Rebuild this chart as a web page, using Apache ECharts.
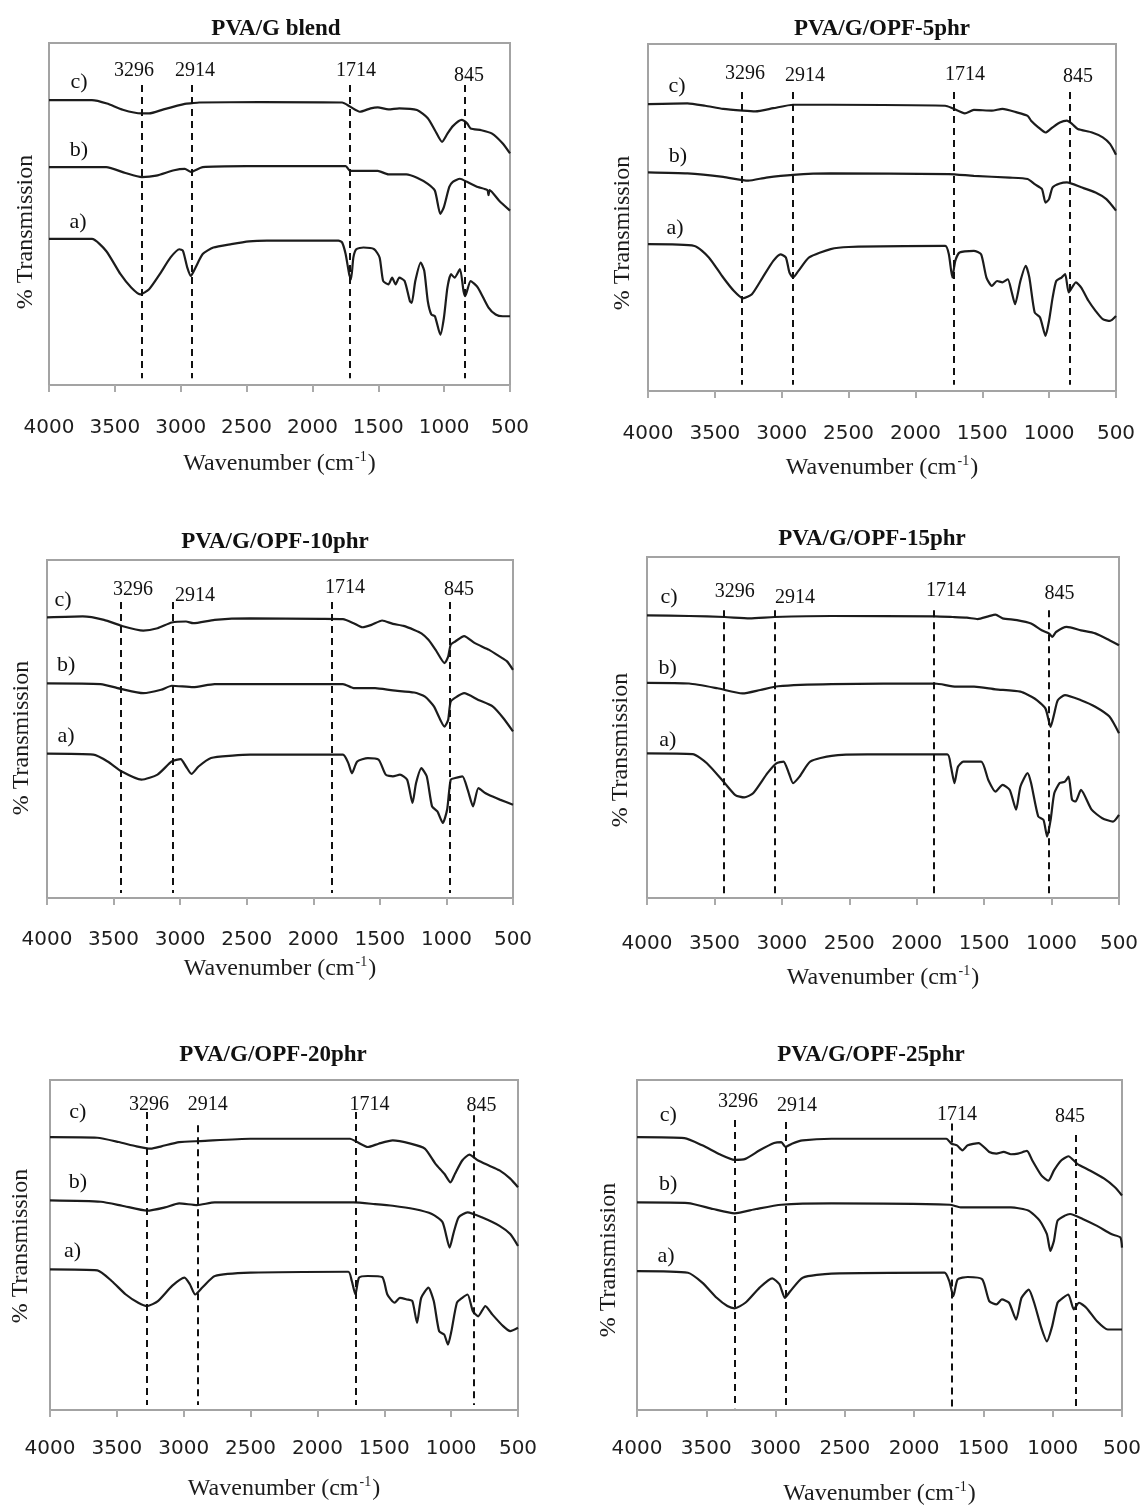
<!DOCTYPE html>
<html>
<head>
<meta charset="utf-8">
<title>FTIR spectra</title>
<script src="https://cdn.jsdelivr.net/npm/echarts@6.0.0/dist/echarts.min.js"></script>
<style>
  html, body { margin: 0; padding: 0; background: #fff; }
  #chart { width: 1143px; height: 1508px; }
</style>
</head>
<body>
<div id="chart"></div>
<script>
// panel titles and annotation texts
var panelTitles = ["PVA/G blend", "PVA/G/OPF-5phr", "PVA/G/OPF-10phr", "PVA/G/OPF-15phr", "PVA/G/OPF-20phr", "PVA/G/OPF-25phr"];
var peakLabels = ["3296", "2914", "1714", "845"];
var curveLabels = ["c)", "b)", "a)"];

// wavenumber where the dashed guide lines are drawn, per panel
var blendDash = [3296, 2914, 1714, 845];
var opf5Dash = [3296, 2914, 1714, 845];
var opf10Dash = [3443, 3057, 1858, 974];
var opf15Dash = [3429, 3054, 1871, 1020];
var opf20Dash = [3279, 2895, 1716, 832];
var opf25Dash = [3296, 2928, 1730, 831];

// spectra: [wavenumber, relative transmission (0 = frame bottom, 100 = frame top)]
var blendC = [[4000,83.3],[3674,83.3],[3560,82.3],[3440,80.5],[3300,79.4],[3240,79.4],[3130,80.6],[2969,82.2],[2915,82.4],[2860,82.6],[2400,82.7],[1775,82.6],[1714,81.4],[1640,79.9],[1558,80.9],[1504,81.2],[1423,80.6],[1341,80.9],[1206,80.4],[1124,78],[1070,74.5],[1016,71.1],[975,73.5],[934,75.7],[867,77.5],[826,76.5],[799,75],[717,74.5],[636,73.5],[555,70.6],[500,67.7]];
var blendB = [[4000,63.7],[3566,63.7],[3420,62],[3295,60.8],[3186,61.2],[3050,62.8],[2969,63.2],[2923,62.3],[2833,63.7],[2500,64],[1748,64],[1714,62.6],[1660,62.6],[1504,62.6],[1423,61.6],[1287,61.6],[1206,60.6],[1124,58.8],[1070,56.8],[1029,50],[1002,52],[961,57.9],[934,59.4],[880,60.3],[826,59.4],[744,57.9],[672,57],[663,55.5],[655,57],[582,53.9],[500,51]];
var blendA = [[4000,42.7],[3674,42.7],[3566,39.2],[3457,32.4],[3376,28.5],[3308,26.5],[3240,28],[3159,32.4],[3077,37.3],[3010,39.7],[2983,39.2],[2950,34.3],[2923,31.9],[2888,34.3],[2833,38.3],[2752,40.2],[2616,41.2],[2481,42],[2345,42.2],[1802,42.2],[1775,41.7],[1748,38.3],[1721,32.4],[1707,30.9],[1689,37.3],[1667,39.7],[1613,40.2],[1531,39.7],[1490,37.3],[1463,30.4],[1423,29.4],[1395,31.4],[1368,29.4],[1341,31.4],[1300,30.4],[1260,24.5],[1246,24],[1219,30.4],[1178,35.8],[1151,33.4],[1124,24.5],[1097,20.6],[1070,20.1],[1029,14.7],[1002,19.6],[975,28.5],[948,32.4],[921,31.4],[880,33.9],[853,27.5],[840,26],[799,30.4],[744,28.5],[663,22.6],[609,20.6],[555,20.1],[500,20.1]];

var opf5C = [[4000,82.7],[3705,82.9],[3572,82.2],[3438,81.3],[3290,80.8],[3197,80.6],[3063,81.5],[2915,82.5],[2634,82.5],[1777,82.2],[1724,81.5],[1630,80],[1563,81],[1429,80.8],[1349,81.3],[1242,80.3],[1161,79.3],[1135,77.9],[1081,76],[1027,74.5],[974,76],[920,77.4],[867,77.9],[827,76.9],[786,75.5],[679,74.5],[599,73.1],[545,71.2],[500,68.1]];
var opf5B = [[4000,63],[3705,62.7],[3438,61.7],[3250,60.6],[3116,61.5],[2915,62.3],[2634,62.7],[1750,62.5],[1563,62],[1295,61.5],[1161,61.1],[1108,59.6],[1054,58.2],[1027,54.3],[1001,55.3],[974,58.7],[920,59.8],[867,60.1],[760,58.7],[653,57.2],[572,55.3],[500,52]];
var opf5A = [[4000,42.3],[3652,41.8],[3545,38.5],[3438,32.7],[3357,28.8],[3290,26.7],[3223,27.9],[3143,32.7],[3063,37.5],[3009,39.4],[2969,38.5],[2942,34.1],[2915,32.7],[2875,34.6],[2795,38.5],[2634,40.9],[2500,41.5],[1777,41.8],[1750,39.4],[1724,32.7],[1702,37.5],[1670,39.9],[1563,40.4],[1509,39.4],[1469,32.7],[1429,30.3],[1389,31.7],[1349,31.3],[1309,32.2],[1282,28.8],[1255,25],[1215,31.7],[1175,36.1],[1148,32.7],[1108,22.6],[1068,21.2],[1027,15.9],[1001,20.2],[974,26.9],[947,31.7],[907,32.7],[880,33.7],[853,28.4],[800,31.3],[760,29.8],[706,26],[653,23.1],[599,20.7],[545,20.2],[500,21.6]];

var opf10C = [[4000,83],[3732,83.3],[3572,82.3],[3438,80.5],[3277,79.1],[3170,79.8],[3063,81.5],[2956,81.8],[2902,81.3],[2741,82.3],[2474,82.7],[1938,82.6],[1777,82.5],[1697,81.3],[1630,80.1],[1563,80.8],[1483,82.1],[1402,81.1],[1322,80.5],[1242,79.3],[1188,78.3],[1135,76.4],[1081,73.4],[1014,69.5],[987,71.4],[968,74.9],[934,75.9],[867,77.5],[786,75.4],[679,73.4],[599,71.4],[545,70],[500,67.5]];
var opf10B = [[4000,63.5],[3598,63.3],[3438,61.8],[3277,60.6],[3143,61.6],[3063,62.8],[2902,62.4],[2741,63.3],[1777,63.3],[1697,62.1],[1536,62.1],[1402,61.4],[1242,60.8],[1161,59.6],[1094,56.7],[1014,50.7],[987,52.7],[968,58.1],[920,59.6],[867,60.6],[760,58.6],[653,56.7],[572,53.2],[500,49.3]];
var opf10A = [[4000,42.7],[3652,42.4],[3545,40.4],[3438,37.4],[3290,35],[3170,36.5],[3063,40.4],[2996,41.1],[2956,38.9],[2915,36.7],[2862,38.9],[2768,41.4],[2607,42.1],[2474,42.4],[1777,42.4],[1737,39.9],[1710,36.9],[1670,40.4],[1590,41.4],[1509,40.9],[1456,36.5],[1402,36],[1349,36.5],[1295,35],[1255,28.1],[1228,34],[1188,38.4],[1148,36],[1108,27.1],[1068,25.6],[1027,22.2],[995,26.1],[968,35],[934,35.5],[880,36],[840,32],[800,27.1],[760,32.5],[706,31],[653,30],[599,29.1],[500,27.6]];

var opf15C = [[4000,82.9],[3688,82.7],[3424,82.4],[3239,82],[3054,82.4],[2631,82.7],[1865,82.6],[1733,82.4],[1628,82.2],[1548,81.8],[1469,82.6],[1416,83.1],[1363,82],[1257,81.5],[1152,80.5],[1073,78.5],[1020,77.6],[994,76.6],[967,78],[888,79.5],[782,78.5],[676,77.6],[571,75.6],[500,74.1]];
var opf15B = [[4000,63.1],[3688,62.9],[3477,61.5],[3292,60],[3160,61],[3028,62.1],[2631,62.7],[1865,62.9],[1707,62],[1575,62],[1416,61.2],[1231,60.5],[1126,58.5],[1046,55.6],[1007,50.2],[980,54.1],[954,58],[901,59.5],[782,58],[676,56.1],[571,53.2],[500,48.3]];
var opf15A = [[4000,42.4],[3662,42.2],[3556,39.5],[3424,33.7],[3345,30.2],[3279,29.5],[3213,30.7],[3107,36.6],[3041,39.5],[2988,40],[2948,36.6],[2917,33.7],[2869,35.6],[2790,40],[2631,41.7],[2367,42.1],[1773,42.1],[1746,38.5],[1720,33.7],[1694,38.5],[1654,40],[1522,40],[1469,34.6],[1416,31.2],[1363,33.2],[1310,31.7],[1263,25.9],[1231,32.7],[1178,36.6],[1152,33.7],[1099,23.9],[1060,22.9],[1033,18],[1007,22.9],[980,30.7],[940,33.7],[901,34.1],[874,35.6],[848,28.8],[822,28.3],[782,31.7],[703,25.9],[624,23.4],[545,22.4],[500,24.4]];

var opf20C = [[4000,82.7],[3646,82.5],[3486,81.2],[3353,79.9],[3247,79.2],[3167,79.9],[3034,81.2],[2874,81.5],[2501,82.2],[1756,82.2],[1703,81.2],[1623,79.7],[1543,80.7],[1437,81.7],[1303,80.7],[1197,79.2],[1117,74.6],[1051,71.6],[1005,69],[971,71.6],[917,75.6],[864,77.4],[798,75.6],[718,74.1],[638,72.6],[558,70.1],[500,67.5]];
var opf20B = [[4000,63.5],[3619,63.1],[3460,61.9],[3273,60.4],[3140,61.4],[3034,62.6],[2901,62.1],[2768,62.9],[1729,62.9],[1570,62.4],[1437,61.9],[1277,60.9],[1144,59.4],[1064,56.9],[1011,49.2],[984,53.3],[944,58.4],[877,59.9],[771,58.4],[638,55.8],[558,53.3],[500,49.7]];
var opf20A = [[4000,42.6],[3646,42.3],[3539,39.1],[3433,35],[3340,32.5],[3273,31.5],[3193,33],[3087,37.6],[2994,40.1],[2954,38.1],[2914,35],[2861,37.1],[2767,40.6],[2501,41.6],[1769,41.9],[1743,39.1],[1716,35],[1689,40.1],[1623,40.6],[1516,40.3],[1477,35],[1423,32.5],[1383,34],[1330,33.5],[1290,33],[1255,26.4],[1224,34],[1170,37.1],[1130,33],[1090,23.9],[1051,22.8],[1024,19.8],[998,23.9],[957,32.5],[917,34],[877,35],[837,29.9],[798,28.4],[744,31.5],[691,28.9],[611,25.4],[558,23.9],[500,24.9]];

var opf25C = [[4000,82.7],[3658,82.4],[3529,80.2],[3399,77.4],[3296,75.8],[3218,76.1],[3115,78.7],[3011,80.9],[2959,81.2],[2928,79.7],[2882,80.7],[2804,81.7],[2597,82.2],[1768,82.2],[1730,80.7],[1691,80.2],[1652,78.7],[1613,80.2],[1535,80.9],[1458,78.2],[1406,77.7],[1354,78.2],[1302,77.5],[1251,77.7],[1186,78.5],[1147,75.6],[1082,71.1],[1031,69.5],[991,72.6],[939,75.6],[887,76.9],[823,74.6],[732,72.6],[628,70.1],[551,67.5],[500,65]];
var opf25B = [[4000,62.9],[3632,62.7],[3451,60.9],[3296,59.6],[3141,60.9],[2959,62.2],[2597,62.6],[1742,62.2],[1665,61.4],[1302,61.4],[1173,60.4],[1094,57.4],[1042,53.3],[1017,48.2],[991,51.3],[965,57.4],[913,58.9],[875,59.4],[784,57.9],[680,55.8],[577,53.3],[512,52.3],[500,49.2]];
var opf25A = [[4000,42.1],[3632,41.6],[3529,38.6],[3425,34],[3348,31.5],[3296,30.8],[3218,32.5],[3115,37.1],[3024,39.9],[2972,38.1],[2933,34],[2894,36],[2804,40.1],[2597,41.3],[1781,41.6],[1747,39.1],[1717,34.5],[1686,39.6],[1613,40.3],[1509,39.6],[1458,33],[1406,32],[1367,33.5],[1315,32.5],[1264,27.4],[1225,34],[1173,36.5],[1134,32.5],[1082,24.9],[1042,20.8],[1004,25.4],[965,32.5],[926,34],[887,35],[848,30.5],[810,32.5],[758,31],[680,26.9],[603,24.4],[500,24.4]];

var spectra = [
  [blendC, blendB, blendA],
  [opf5C, opf5B, opf5A],
  [opf10C, opf10B, opf10A],
  [opf15C, opf15B, opf15A],
  [opf20C, opf20B, opf20A],
  [opf25C, opf25B, opf25A]
];
var dashes = [blendDash, opf5Dash, opf10Dash, opf15Dash, opf20Dash, opf25Dash];

// ---- layout (pixels / data-space anchors), kept apart from the values ----
var grids = [
  { left: 49, top: 43, width: 461, height: 342 },
  { left: 648, top: 44, width: 468, height: 347 },
  { left: 47, top: 560, width: 466, height: 338 },
  { left: 647, top: 557, width: 472, height: 341 },
  { left: 50, top: 1080, width: 468, height: 330 },
  { left: 637, top: 1080, width: 485, height: 330 }
];
var labelMargin = [33, 33, 32, 36, 29, 29];
var nameGap = [65, 63, 57, 66, 65, 70];
var titlePos = [[276, 29], [882, 29], [275, 542], [872, 539], [273, 1055], [871, 1055]];
var yNamePos = [[26, 232], [623, 233], [22, 738], [621, 750], [21, 1246], [609, 1260]];
// anchors for c), b), a), then the four peak numbers
var textAnchor = [
  [[3772,88.6],[3772,68.7],[3780,47.7],[3355,91.8],[2892,91.8],[1669,91.8],[811,90.4]],
  [[3783,87.9],[3776,67.7],[3798,47],[3275,91.4],[2826,90.8],[1629,91],[784,90.5]],
  [[3880,88.2],[3857,68.9],[3857,47.8],[3354,91.1],[2888,89.3],[1762,91.7],[906,91.1]],
  [[3837,88.3],[3846,67.3],[3846,46.3],[3350,89.7],[2902,88],[1782,90],[942,89.2]],
  [[3792,90.3],[3792,69.1],[3832,48.2],[3260,92.4],[2821,92.4],[1610,92.4],[773,92.1]],
  [[3775,89.4],[3775,68.5],[3790,46.7],[3271,93.3],[2845,92.1],[1691,89.4],[875,88.8]]
];
// vertical extent of each dashed line [top, bottom]
var dashSpan = [
  [[87.7,2],[87.7,2],[87.7,2],[87.7,2]],
  [[86.2,1.8],[86.2,1.8],[86.2,1.8],[86.2,1.8]],
  [[87.6,1.5],[87.6,1.5],[87.6,1.5],[87.6,1.5]],
  [[84.4,0.5],[84.4,0.5],[84.4,0.5],[84.4,0.5]],
  [[90.3,1.5],[86.3,1.5],[90.3,1.5],[89.3,1.5]],
  [[87.9,0.5],[87.3,0.5],[86.8,0.5],[83.3,0.5]]
];

var serif = '"Liberation Serif", "Times New Roman", serif';
var ink = "#1c1c1c";

var option = {
  animation: false,
  backgroundColor: "#fff",
  grid: [],
  xAxis: [],
  yAxis: [],
  series: [],
  graphic: []
};

for (var i = 0; i < 6; i++) {
  var g = grids[i];
  option.grid.push({
    left: g.left, top: g.top, width: g.width, height: g.height,
    show: true, borderColor: "#a3a3a3", borderWidth: 2,
    containLabel: false, outerBoundsMode: "none"
  });
  option.xAxis.push({
    type: "value", gridIndex: i, min: 500, max: 4000, interval: 500, inverse: true,
    name: "{n|Wavenumber (cm}{s|-1}{n|)}",
    nameLocation: "middle", nameGap: nameGap[i],
    nameTextStyle: {
      rich: {
        n: { fontFamily: serif, fontSize: 24, color: ink, lineHeight: 28 },
        s: { fontFamily: serif, fontSize: 14, color: ink, lineHeight: 14, verticalAlign: "top", padding: [0, 1, 0, 1] }
      }
    },
    axisLine: { show: false },
    axisTick: { show: true, length: 7, lineStyle: { color: "#aaa", width: 2 } },
    axisLabel: {
      margin: labelMargin[i], fontFamily: '"DejaVu Sans", Verdana, sans-serif', fontSize: 20, color: "#1e1e1e",
      formatter: function (v) { return String(v); }
    },
    splitLine: { show: false }
  });
  option.yAxis.push({
    type: "value", gridIndex: i, min: 0, max: 100, show: false, splitLine: { show: false }
  });

  // three spectra
  for (var k = 0; k < 3; k++) {
    var s = {
      type: "line", name: curveLabels[k], xAxisIndex: i, yAxisIndex: i,
      data: spectra[i][k], showSymbol: false, smooth: 0.2,
      lineStyle: { color: ink, width: 2.2 }, silent: true
    };
    if (k === 2) {
      s.markLine = {
        silent: true, symbol: ["none", "none"], label: { show: false },
        lineStyle: { color: "#111", width: 2, type: [7, 5] },
        data: dashes[i].map(function (w, j) {
          return [{ coord: [w, dashSpan[i][j][0]] }, { coord: [w, dashSpan[i][j][1]] }];
        })
      };
    }
    option.series.push(s);
  }

  // curve tags and peak numbers
  var texts = curveLabels.concat(peakLabels);
  option.series.push({
    type: "scatter", xAxisIndex: i, yAxisIndex: i, symbolSize: 0, silent: true,
    itemStyle: { color: "transparent", opacity: 1 },
    label: { show: true, position: "inside", formatter: "{b}", fontFamily: serif, fontSize: 21, color: "#111" },
    data: texts.map(function (t, j) {
      return { name: t, value: textAnchor[i][j], label: { fontSize: j < 3 ? 22 : 20 } };
    })
  });

  option.graphic.push({
    type: "text", x: titlePos[i][0], y: titlePos[i][1], silent: true,
    style: { text: panelTitles[i], font: "bold 23px " + serif, fill: "#111",
      align: "center", verticalAlign: "middle", textAlign: "center", textVerticalAlign: "middle" }
  });
  option.graphic.push({
    type: "text", x: yNamePos[i][0], y: yNamePos[i][1], rotation: Math.PI / 2, silent: true,
    style: { text: "% Transmission", font: "24px " + serif, fill: ink,
      align: "center", verticalAlign: "middle", textAlign: "center", textVerticalAlign: "middle" }
  });
}

var myChart = echarts.init(document.getElementById("chart"));
myChart.setOption(option);
</script>
</body>
</html>
